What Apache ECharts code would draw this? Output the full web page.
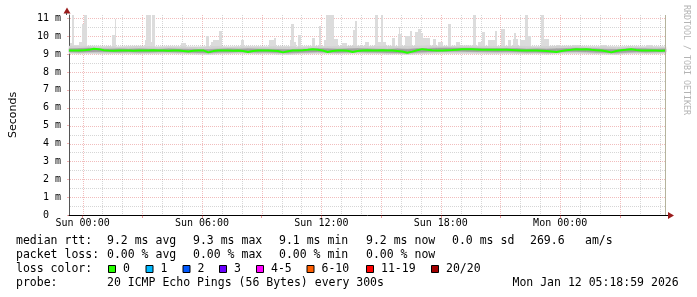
<!DOCTYPE html>
<html><head><meta charset="utf-8">
<script src="https://cdn.jsdelivr.net/npm/echarts@6/dist/echarts.min.js"></script>
<style>html,body{margin:0;padding:0;background:#fff}#c{width:697px;height:297px}</style>
</head><body><div id="c"></div>
<script>
// ---- time axis: minutes relative to Sun 00:00 ----
const startMin = -41;          // Sat 23:19
const endMin = 1759;           // Mon 05:19
const xTickLabels = ['Sun 00:00','Sun 06:00','Sun 12:00','Sun 18:00','Mon 00:00'];
const xTickMinutes = [0, 360, 720, 1080, 1440];
const yTickValues = [0,1,2,3,4,5,6,7,8,9,10,11];
const yMax = 11.19;

// median rtt (ms), one value every 15 minutes from startMin
const medianStep = 15;
const median = [
 9.20,9.21,9.20,9.22,9.24,9.30,9.28,9.22,9.20,9.19,
 9.20,9.21,9.20,9.19,9.20,9.21,9.20,9.22,9.21,9.20,
 9.19,9.20,9.21,9.18,9.15,9.19,9.20,9.21,9.10,9.17,
 9.20,9.21,9.20,9.19,9.20,9.18,9.12,9.17,9.20,9.21,
 9.20,9.19,9.18,9.10,9.16,9.20,9.21,9.22,9.24,9.28,
 9.24,9.20,9.12,9.18,9.21,9.20,9.19,9.12,9.18,9.21,
 9.22,9.21,9.20,9.22,9.21,9.20,9.18,9.15,9.08,9.14,
 9.22,9.28,9.24,9.22,9.21,9.20,9.22,9.23,9.25,9.27,
 9.28,9.27,9.26,9.25,9.24,9.24,9.25,9.25,9.24,9.23,
 9.22,9.21,9.20,9.21,9.20,9.19,9.18,9.15,9.12,9.18,
 9.22,9.24,9.27,9.26,9.27,9.24,9.22,9.20,9.16,9.10,
 9.18,9.22,9.24,9.27,9.23,9.21,9.20,9.21,9.20,9.19,
 9.20
];

// smoke envelope (ms), one value every 30 minutes from startMin
const bandStep = 30;
const outerLo = [9.03,9.02,9.03,9.02,9.02,9.03,9.02,9.01,9.02,9.02, 9.03,9.02,9.01,9.00,8.98,9.01,9.02,9.03,9.02,9.01, 9.02,9.00,8.98,9.01,9.02,9.03,9.02,9.01,9.02,9.03, 9.02,9.02,9.00,9.01,8.98,9.01,9.02,9.03,9.03,9.04, 9.04,9.03,9.02,9.02,9.03,9.02,9.01,9.02,9.00,9.02, 9.03,9.03,9.02,9.01,9.00,8.98,9.02,9.03,9.02,9.02,9.03];
const outerHi = [9.45,9.44,9.46,9.44,9.43,9.42,9.44,9.45,9.43,9.42, 9.44,9.43,9.42,9.41,9.43,9.44,9.42,9.43,9.44,9.43, 9.42,9.44,9.43,9.42,9.44,9.45,9.43,9.44,9.45,9.46, 9.44,9.45,9.46,9.44,9.45,9.46,9.47,9.46,9.45,9.46, 9.47,9.46,9.45,9.44,9.45,9.46,9.44,9.43,9.44,9.45, 9.46,9.45,9.44,9.43,9.44,9.42,9.43,9.44,9.42,9.43,9.42];
const innerLo = [9.12,9.11,9.12,9.13,9.12,9.11,9.12,9.10,9.11,9.12, 9.12,9.11,9.10,9.08,9.06,9.10,9.11,9.12,9.11,9.10, 9.11,9.08,9.06,9.09,9.11,9.12,9.10,9.09,9.10,9.12, 9.11,9.10,9.08,9.07,9.05,9.10,9.12,9.14,9.15,9.16, 9.15,9.14,9.13,9.12,9.13,9.12,9.10,9.11,9.08,9.10, 9.13,9.14,9.12,9.10,9.08,9.06,9.10,9.12,9.11,9.12,9.12];
const innerHi = [9.30,9.31,9.34,9.30,9.29,9.30,9.29,9.30,9.29,9.28, 9.30,9.29,9.28,9.27,9.26,9.29,9.30,9.29,9.30,9.29, 9.28,9.27,9.26,9.28,9.29,9.31,9.30,9.29,9.30,9.31, 9.30,9.29,9.28,9.30,9.28,9.31,9.32,9.34,9.35,9.34, 9.34,9.33,9.32,9.31,9.32,9.31,9.29,9.30,9.29,9.30, 9.32,9.34,9.32,9.30,9.28,9.27,9.30,9.32,9.30,9.29,9.30];

// smoke peaks: [from minute, to minute, max rtt ms]
const spikes = [
 [-37,-31,9.6],[-31,-25,11.2],[-25,-11,9.5],[-11,-1,9.7],[-1,5,10.7],[5,13,11.2],
 [72,87,9.45],[89,97,10.05],[97,102,10.95],
 [187,192,9.8],[192,205,11.2],[205,209,9.7],[209,217,11.2],
 [298,313,9.6],[372,382,10.0],[387,392,9.7],[392,411,9.8],[411,419,10.3],
 [477,487,9.8],[562,577,9.8],[577,583,9.9],
 [624,629,9.8],[629,637,10.7],[637,643,9.7],[649,659,10.05],
 [692,702,9.9],[712,719,10.6],[727,735,9.8],[735,757,11.2],[757,769,9.85],
 [781,796,9.6],[815,822,10.35],[822,826,10.85],[852,865,9.7],
 [882,892,11.2],[892,899,9.7],[899,907,11.2],[907,915,9.7],
 [932,942,9.9],[952,962,10.1],[955,958,10.5],[972,987,10.0],[987,993,10.3],
 [1002,1012,10.25],[1012,1020,10.4],[1020,1027,10.2],[1027,1047,9.9],
 [1057,1067,9.85],[1072,1087,9.7],[1102,1112,10.7],[1127,1139,9.7],
 [1177,1187,11.2],[1192,1205,9.7],[1205,1212,10.25],[1222,1242,9.8],[1242,1249,10.3],
 [1262,1275,10.4],[1282,1292,9.8],[1297,1302,9.85],[1302,1307,10.2],[1307,1312,9.85],
 [1319,1335,9.8],[1335,1342,11.2],[1342,1352,10.0],
 [1382,1392,11.2],[1392,1407,9.85],[1427,1442,9.5],
 [1480,1500,9.5],[1560,1580,9.5],[1640,1660,9.48],[1700,1720,9.5]
];

// legend texts
const rttLabel = 'median rtt:';
const rttStats = ['9.2 ms avg','9.3 ms max','9.1 ms min','9.2 ms now','0.0 ms sd'];
const rttExtra = ['269.6','am/s'];
const lossLabel = 'packet loss:';
const lossStats = ['0.00 % avg','0.00 % max','0.00 % min','0.00 % now'];
const lossColorLabel = 'loss color:';
const lossNames = ['0','1','2','3','4-5','6-10','11-19','20/20'];
const lossColors = ['#26ff00','#00b8ff','#0059ff','#6a00ff','#ff00ff','#ff5e00','#ff0000','#a10000'];
const probeLabel = 'probe:';
const probeText = '20 ICMP Echo Pings (56 Bytes) every 300s';
const stampText = 'Mon Jan 12 05:18:59 2026';
const watermark = 'RRDTOOL / TOBI OETIKER';

// ---- build ----
const MONO = '"DejaVu Sans Mono", monospace';
const MAJOR = 'rgba(200,0,0,0.26)';
const MINOR = 'rgba(120,120,120,0.3)';
const toPts = (arr, step) => arr.map((v, i) => [startMin + i * step, v]);
const bandPts = (lo, hi) => lo.map((v, i) => [startMin + i * bandStep, v, hi[i]]);

const hourLines = [];
for (let h = 0; h * 60 < endMin; h++) hourLines.push([h * 60, 0]);
const halfLines = [];
for (let v = 0.5; v <= 11; v += 0.5) halfLines.push([startMin, v]);
const tick3h = [];
for (let m = 0; m < endMin; m += 180) tick3h.push(m);

function bandSeries(data, color, z) {
  return {type:'custom', z, silent:true, data, encode:{x:0, y:[1,2]},
    renderItem(p, api) {
      const i = p.dataIndex;
      if (i >= data.length - 1) return null;
      const n = data[i + 1];
      const a = api.coord([data[i][0], data[i][1]]), b = api.coord([data[i][0], data[i][2]]);
      const c = api.coord([n[0], n[2]]), d = api.coord([n[0], n[1]]);
      return {type:'polygon', shape:{points:[a, b, c, d]}, style:{fill:color, stroke:color, lineWidth:0.5}};
    }};
}

const rowY = [241.5, 255.5, 269.5, 283.5];
const fieldX = [107, 193, 279, 366, 452];
const boxX = [108, 145.5, 182.5, 219, 256, 306.5, 366, 431];
const graphics = [];
const txt = (s, x, y) => graphics.push({type:'text', x, y, silent:true,
  style:{text:s, font:'11.5px ' + MONO, fill:'#000', align:'left', verticalAlign:'middle'}});
txt(rttLabel, 16, rowY[0]);
rttStats.forEach((s, i) => txt(s, fieldX[i], rowY[0]));
txt(rttExtra[0], 530, rowY[0]); txt(rttExtra[1], 585, rowY[0]);
txt(lossLabel, 16, rowY[1]);
lossStats.forEach((s, i) => txt(s, fieldX[i], rowY[1]));
txt(lossColorLabel, 16, rowY[2]);
lossNames.forEach((s, i) => {
  graphics.push({type:'rect', silent:true, shape:{x:boxX[i] + 0.5, y:265.5, width:7, height:7},
    style:{fill:lossColors[i], stroke:'#000', lineWidth:1}});
  txt(s, boxX[i] + 15, rowY[2]);
});
txt(probeLabel, 16, rowY[3]);
txt(probeText, 107, rowY[3]);
txt(stampText, 512.5, rowY[3]);
graphics.push({type:'text', x:686, y:60, rotation:-Math.PI/2, silent:true,
  style:{text:watermark, font:'8.3px ' + MONO, fill:'#b4b4b4', align:'center', verticalAlign:'middle'}});
// axis arrows
graphics.push({type:'polygon', silent:true, shape:{points:[[63.5,13.5],[70.5,13.5],[67,7.5]]}, style:{fill:'#9a1c1c'}});
graphics.push({type:'line', silent:true, shape:{x1:66.5,y1:13,x2:66.5,y2:15}, style:{stroke:'#555', lineWidth:1}});
graphics.push({type:'polygon', silent:true, shape:{points:[[668,212],[668,219],[674,215.5]]}, style:{fill:'#9a1c1c'}});
graphics.push({type:'line', silent:true, shape:{x1:666,y1:215.5,x2:668,y2:215.5}, style:{stroke:'#000', lineWidth:1}});

const option = {
  animation: false,
  backgroundColor: '#fff',
  grid: {left: 66, top: 15, width: 600, height: 200},
  xAxis: {
    type: 'value', min: startMin, max: endMin,
    axisLine: {show: true, onZero: false, lineStyle: {color: '#000', width: 1}},
    axisTick: {show: true, customValues: tick3h, length: 3, lineStyle: {color: 'rgba(200,0,0,0.4)'}},
    axisLabel: {customValues: xTickMinutes, formatter: v => xTickLabels[xTickMinutes.indexOf(v)] || '',
      fontFamily: MONO, fontSize: 10, color: '#000', margin: 3},
    splitLine: {show: false}
  },
  yAxis: {
    type: 'value', min: 0, max: yMax,
    name: 'Seconds', nameLocation: 'middle', nameGap: 50, nameRotate: 90,
    nameTextStyle: {fontFamily: '"DejaVu Sans", sans-serif', fontSize: 11, color: '#000'},
    axisLine: {show: true, onZero: false, lineStyle: {color: '#555', width: 1}},
    axisTick: {show: true, customValues: yTickValues, length: 2, lineStyle: {color: 'rgba(200,0,0,0.3)'}},
    axisLabel: {customValues: yTickValues, formatter: v => v === 0 ? '0  ' : v + ' m',
      fontFamily: MONO, fontSize: 10, color: '#000', margin: 8},
    splitLine: {show: false}
  },
  graphic: graphics,
  series: [
    {type:'custom', z:1, silent:true, data: hourLines, encode:{x:0, y:1},
      renderItem(p, api){
        const v = api.value(0);
        const a = api.coord([v, 0]), b = api.coord([v, yMax]);
        const x = Math.round(a[0]) + 0.5;
        return {type:'line', shape:{x1:x, y1:a[1] - 1, x2:x, y2:b[1]},
          style:{stroke: v % 180 === 0 ? MAJOR : MINOR, lineWidth:1, lineDash:[1,1]}};
      }},
    {type:'custom', z:1, silent:true, data: halfLines, encode:{x:0, y:1},
      renderItem(p, api){
        const v = api.value(1);
        const a = api.coord([startMin, v]), b = api.coord([endMin, v]);
        const y = Math.round(a[1]) + 0.5;
        return {type:'line', shape:{x1:a[0] + 1, y1:y, x2:b[0], y2:y},
          style:{stroke: v % 1 === 0 ? MAJOR : MINOR, lineWidth:1, lineDash:[1,1]}};
      }},
    {type:'custom', z:2, silent:true, data: spikes, encode:{x:[0,1], y:2},
      renderItem(p, api){
        const a = api.coord([api.value(0), 9.3]);
        const b = api.coord([api.value(1), Math.min(api.value(2), yMax)]);
        const x0 = Math.round(a[0]), x1 = Math.max(Math.round(b[0]), x0 + 1);
        const y1 = Math.round(b[1]);
        return {type:'rect', shape:{x:x0, y:y1, width:x1 - x0, height:Math.round(a[1]) - y1},
          style:{fill:'#dcdcdc'}};
      }},
    bandSeries(bandPts(outerLo, outerHi), '#d2d2d2', 3),
    bandSeries(bandPts(innerLo, innerHi), '#a0a0a0', 4),
    {type:'line', z:5, silent:true, symbol:'none', data: toPts(median, medianStep),
      lineStyle:{color:'#26ff00', width:2}},
    {type:'custom', z:6, silent:true, data: [[endMin, 0]], encode:{x:0, y:1},
      renderItem(p, api){
        const a = api.coord([api.value(0), 0]), b = api.coord([api.value(0), yMax]);
        const x = Math.round(a[0]) - 0.5;
        return {type:'line', shape:{x1:x, y1:a[1], x2:x, y2:b[1]}, style:{stroke:'#b5b39c', lineWidth:1}};
      }}
  ]
};
echarts.init(document.getElementById('c')).setOption(option);
</script>
</body></html>
